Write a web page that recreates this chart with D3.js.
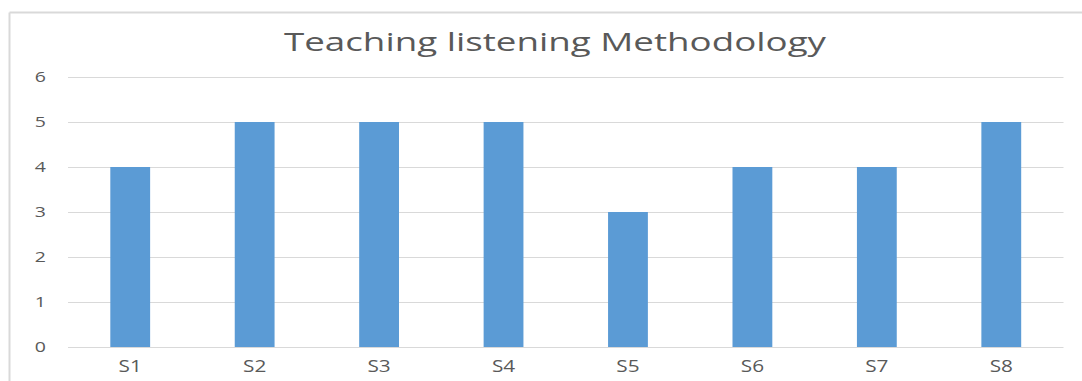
<!DOCTYPE html>
<html>
<head>
<meta charset="utf-8">
<script src="https://cdn.jsdelivr.net/npm/d3@7"></script>
<style>
  body { margin: 0; background: #fff; }
  text { font-family: "Open Sans", "DejaVu Sans", sans-serif; fill: #595959; }
</style>
</head>
<body>
<script>
// data
categories = ["S1", "S2", "S3", "S4", "S5", "S6", "S7", "S8"]
values = [4, 5, 5, 5, 3, 4, 4, 5]
yTicks = [0, 1, 2, 3, 4, 5, 6]
title = "Teaching listening Methodology"

width = 1082
height = 381
margin = {top: 77, right: 18.5, bottom: 34, left: 68}

svg = d3.select("body")
    .append("svg")
    .attr("width", width)
    .attr("height", height)

// chart border (top and left visible only)
svg.append("line")
    .attr("x1", 9.5).attr("x2", width)
    .attr("y1", 12.5).attr("y2", 12.5)
    .attr("stroke", "#d9d9d9").attr("stroke-width", 2)
svg.append("line")
    .attr("x1", 9.5).attr("x2", 9.5)
    .attr("y1", 12.5).attr("y2", height)
    .attr("stroke", "#d9d9d9").attr("stroke-width", 2)

x = d3.scaleBand()
    .domain(categories)
    .range([margin.left, width - margin.right])
    .paddingInner(0.68)
    .paddingOuter(0.34)

y = d3.scaleLinear()
    .domain([0, 6])
    .range([height - margin.bottom, margin.top])

// gridlines
svg.selectAll("line.grid")
    .data(yTicks)
    .enter()
    .append("line")
    .attr("class", "grid")
    .attr("x1", margin.left)
    .attr("x2", width - margin.right)
    .attr("y1", d => y(d) + 0.5)
    .attr("y2", d => y(d) + 0.5)
    .attr("stroke", "#d9d9d9")
    .attr("stroke-width", 1)

// bars
svg.selectAll("rect.bar")
    .data(values)
    .enter()
    .append("rect")
    .attr("class", "bar")
    .attr("x", (d, i) => x(categories[i]))
    .attr("width", x.bandwidth())
    .attr("y", d => y(d))
    .attr("height", d => y(0) - y(d))
    .attr("fill", "#5b9bd5")

// y axis labels (reference text is stretched sideways)
yAxis = svg.append("g")
    .attr("transform", "translate(" + (margin.left - 22) + ",0)")
    .call(d3.axisLeft(y).tickValues(yTicks).tickSize(0).tickFormat(d3.format("d")))
yAxis.select(".domain").remove()
yAxis.selectAll("text")
    .attr("font-size", 15)
    .attr("fill", "#595959")
    .style("font-family", "'Open Sans', sans-serif")
    .attr("x", 0)
    .attr("transform", "scale(1.3,1)")

// x axis labels
xAxis = svg.append("g")
    .attr("transform", "translate(0," + y(0) + ")")
    .call(d3.axisBottom(x).tickSize(0).tickPadding(14))
xAxis.select(".domain").remove()
xAxis.selectAll("text")
    .attr("font-size", 16)
    .attr("fill", "#595959")
    .style("font-family", "'Open Sans', sans-serif")
    .attr("transform", "scale(1.3,1)")

// title
svg.append("text")
    .attr("x", 555)
    .attr("y", 51)
    .attr("text-anchor", "middle")
    .attr("font-size", 25)
    .attr("textLength", 542)
    .attr("lengthAdjust", "spacingAndGlyphs")
    .text(title)
</script>
</body>
</html>
